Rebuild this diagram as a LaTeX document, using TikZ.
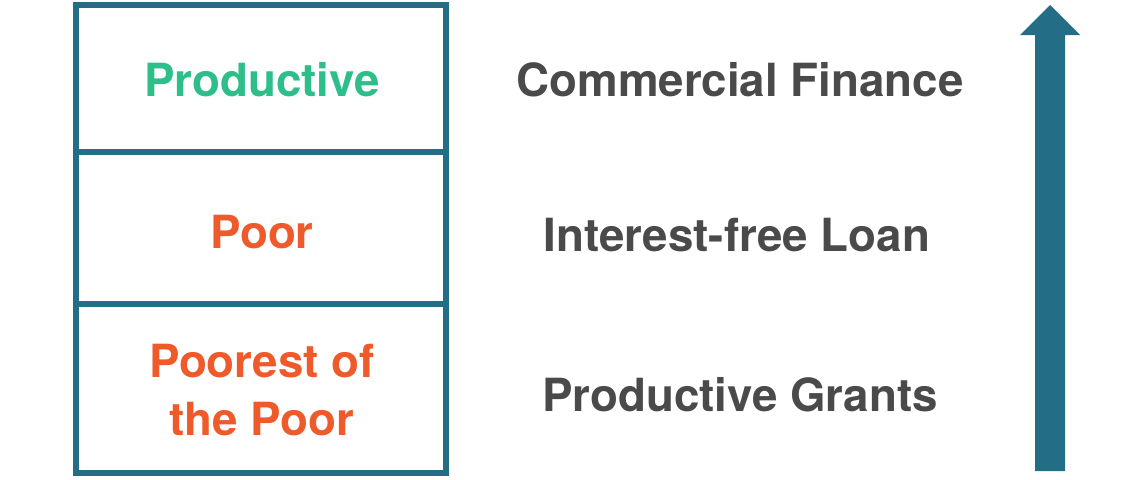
\documentclass[tikz,border=0pt]{standalone}
\usepackage{fontspec}
\setmainfont{TeX Gyre Heros}
\usetikzlibrary{positioning}
\definecolor{teal}{HTML}{236E86}
\definecolor{prodgreen}{HTML}{2DBE8A}
\definecolor{poororange}{HTML}{EE5A2A}
\definecolor{txtgray}{HTML}{4A4A4A}

\begin{document}
\begin{tikzpicture}[x=0.025cm,y=-0.025cm,
    lbl/.style={font=\fontsize{32.5}{41}\selectfont\bfseries,align=center},
    fin/.style={lbl,text=txtgray}]
    \useasboundingbox (0,0) rectangle (1140,480);
    % boxes
    \draw[teal,line width=6pt*0.71] (76,5) rectangle (446,473)
    (76,152) to (446,152)
    (76,304) to (446,304);
    % groups
    \node[lbl,text=prodgreen] (prod) at (262,80) {Productive};
    \node[lbl,text=poororange] (poor) at (262,232) {Poor};
    \node[lbl,text=poororange] (poorest) at (262,390) {Poorest of\\the Poor};
    % finance
    \node[fin] (comm) at (740,80) {Commercial Finance};
    \node[fin] (loan) at (737,235) {Interest-free Loan};
    \node[fin] (grant) at (740,395) {Productive Grants};
    % arrow
    \fill[teal] (1035,471) -- (1035,35) -- (1020,35) -- (1050,5) -- (1080,35)
    -- (1065,35) -- (1065,471) -- cycle;
\end{tikzpicture}
\end{document}
